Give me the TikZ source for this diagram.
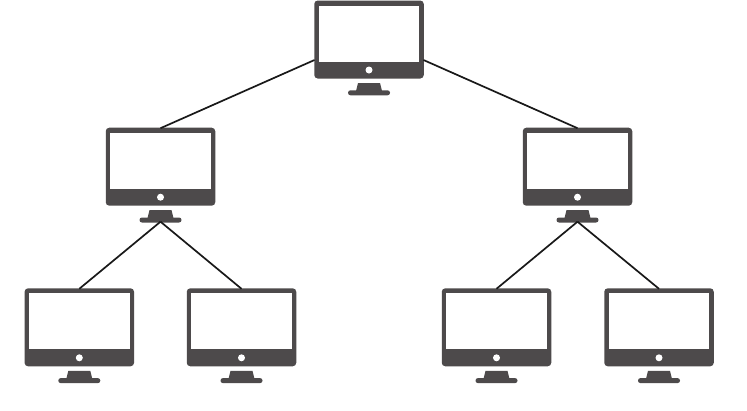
\documentclass[tikz,border=0pt]{standalone}
\definecolor{monitordark}{HTML}{4D4A4B}
\tikzset{
  x=1pt,y=-1pt,
  frame/.style={fill=monitordark,rounded corners=3.5pt,minimum width=109.5pt,minimum height=78pt,inner sep=0pt,outer sep=0pt},
  screen/.style={fill=white,minimum width=100.5pt,minimum height=56pt,inner sep=0pt,outer sep=0pt},
  knob/.style={circle,fill=white,minimum size=7pt,inner sep=0pt,outer sep=0pt},
  foot/.style={fill=monitordark,rounded corners=2.4pt,minimum width=42pt,minimum height=5pt,inner sep=0pt,outer sep=0pt},
  link/.style={draw=black!90,line width=1.7pt},
}
\newcommand{\monitor}[3]{%
  % #1 name, #2 centre x, #3 top y
  \node[frame] (#1) at (#2,#3+39) {};
  \node[screen] (#1-screen) at (#2+0.2,#3+33) {};
  \node[knob] (#1-knob) at (#2,#3+69.5) {};
  \fill[monitordark] (#2-11,#3+82.5) -- (#2+11,#3+82.5) -- (#2+13,#3+90.5) -- (#2-13,#3+90.5) -- cycle;
  \node[foot] (#1-foot) at (#2,#3+92.3) {};
  \coordinate (#1-top) at (#2,#3+0.5);
  \coordinate (#1-left) at (#2-54.5,#3+59.5);
  \coordinate (#1-right) at (#2+54.5,#3+59.5);
  \coordinate (#1-base) at (#2,#3+94);
}
\begin{document}
\begin{tikzpicture}
\useasboundingbox (0,0) rectangle (747,410);
\fill[white] (0,0) rectangle (747,410);
\monitor{root}{369}{0.5}
\monitor{midl}{160.5}{127.7}
\monitor{midr}{577.5}{127.7}
\monitor{leafa}{79.3}{288.3}
\monitor{leafb}{241.5}{288.3}
\monitor{leafc}{496.5}{288.3}
\monitor{leafd}{659}{288.3}
\draw[link] (root-left) -- (midl-top);
\draw[link] (root-right) -- (midr-top);
\draw[link] (midl-base) -- (leafa-top);
\draw[link] (midl-base) -- (leafb-top);
\draw[link] (midr-base) -- (leafc-top);
\draw[link] (midr-base) -- (leafd-top);
\end{tikzpicture}
\end{document}
